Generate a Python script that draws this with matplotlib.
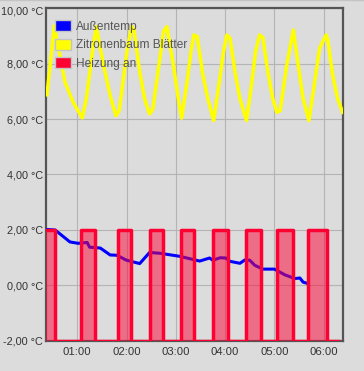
import matplotlib.pyplot as plt
import matplotlib.transforms as mtransforms
from matplotlib.lines import Line2D
from matplotlib.patches import Patch

# Zeit in Minuten seit Mitternacht
aussen_t = [22, 33, 51, 61, 72, 75, 88, 100, 108, 120, 136, 148, 161, 185,
            209, 221, 225, 234, 241, 246, 258, 264, 270, 276, 286, 300, 313,
            325, 331, 335, 341]
aussen_v = [2.02, 2.0, 1.57, 1.52, 1.55, 1.38, 1.35, 1.1, 1.09, 0.91, 0.79,
            1.19, 1.16, 1.05, 0.88, 0.99, 0.91, 1.0, 0.99, 0.87, 0.8, 0.92,
            0.91, 0.73, 0.59, 0.59, 0.38, 0.25, 0.27, 0.12, 0.07]

zitrone_t = [23, 32, 45, 55, 66, 71, 79, 83, 92, 100, 107, 111, 121, 126,
             129, 136, 142, 148, 152, 165, 169, 177, 183, 187, 193, 199, 202,
             206, 213, 219, 226, 234, 238, 242, 246, 252, 258, 266, 272, 277,
             282, 286, 292, 298, 303, 307, 315, 323, 329, 335, 342, 349, 355,
             363, 365, 371, 377, 383]
zitrone_v = [6.87, 9.36, 7.33, 6.6, 6.04, 6.73, 8.55, 9.33, 7.94, 6.85, 6.12,
             6.3, 8.55, 9.33, 9.21, 7.7, 6.73, 6.18, 6.36, 9.15, 9.33, 7.94,
             6.73, 6.03, 7.2, 8.55, 9.03, 8.97, 7.57, 6.73, 5.94, 7.57, 8.42,
             9.03, 8.91, 7.7, 6.73, 5.94, 7.21, 8.42, 9.03, 8.93, 7.7, 6.73,
             6.24, 6.3, 7.94, 9.21, 7.94, 6.73, 5.94, 7.33, 8.55, 9.03, 8.85,
             7.57, 6.73, 6.24]

heizung_t = [22, 33, 65, 81, 109, 125, 148, 164, 186, 202, 225, 243, 265,
             284, 303, 323, 341, 364, 377]
heizung_v = [2, -2, 2, -2, 2, -2, 2, -2, 2, -2, 2, -2, 2, -2, 2, -2, 2, -2, -2]

xticks = [60, 120, 180, 240, 300, 360]
xlabels = ['01:00', '02:00', '03:00', '04:00', '05:00', '06:00']
yticks = [-2, 0, 2, 4, 6, 8, 10]
ylabels = ['-2,00 °C', '0,00 °C', '2,00 °C', '4,00 °C', '6,00 °C',
           '8,00 °C', '10,00 °C']

plt.rcParams['font.family'] = ['Liberation Sans', 'DejaVu Sans']
bg = '#dcdcdc'

fig = plt.figure(figsize=(3.64, 3.71), dpi=100, facecolor=bg)
ax = fig.add_axes([0.1264, 0.0809, 0.8159, 0.8975])
ax.set_facecolor(bg)

ax.plot(zitrone_t, zitrone_v, color='#ffff00', lw=2.5, zorder=3)
ax.plot(aussen_t, aussen_v, color='#0000ff', lw=2.2, zorder=3)
ax.fill_between(heizung_t, -2, heizung_v, step='post', color='#ff0033',
                alpha=0.5, lw=0, zorder=4)
ax.plot(heizung_t, heizung_v, color='#ff0033', lw=2.5, drawstyle='steps-post',
        zorder=5)

ax.set_xlim(21.9, 383.5)
ax.set_ylim(-2, 10)
ax.set_xticks(xticks)
ax.set_xticklabels(xlabels)
ax.set_yticks(yticks)
ax.set_yticklabels(ylabels)
ax.tick_params(length=0, colors='#333333')
ax.tick_params(axis='y', pad=2.2, labelsize=7.8)
ax.tick_params(axis='x', pad=4, labelsize=8.1)
ax.grid(True, color='#b4b4b4', lw=0.8, zorder=0)
ax.set_axisbelow(True)
for s in ax.spines.values():
    s.set_color('#555555')
    s.set_linewidth(1.6)

# oberstes Label etwas nach unten, damit es nicht abgeschnitten wird
top_lbl = ax.get_yticklabels()[-1]
top_lbl.set_transform(top_lbl.get_transform() +
                      mtransforms.ScaledTranslation(0, -2 / 72, fig.dpi_scale_trans))

handles = [Patch(facecolor='#0000ff', edgecolor='#c4c4c4', lw=1),
           Patch(facecolor='#ffff00', edgecolor='#c4c4c4', lw=1),
           Patch(facecolor='#ff0033', edgecolor='#c4c4c4', lw=1)]
leg = ax.legend(handles, ['Außentemp', 'Zitronenbaum Blätter', 'Heizung an'],
                loc='upper left', bbox_to_anchor=(0.005, 0.985), frameon=False,
                fontsize=8.6, handlelength=1.35, handleheight=1.05,
                handletextpad=0.4, labelspacing=0.5, borderaxespad=0.2)
for t in leg.get_texts():
    t.set_color('#555555')
leg.set_zorder(6)

fig.add_artist(Line2D([0, 1], [0.999, 0.999], transform=fig.transFigure,
                      color='#c4c4c4', lw=1))

fig.savefig('out.png', dpi=100, facecolor=bg)
